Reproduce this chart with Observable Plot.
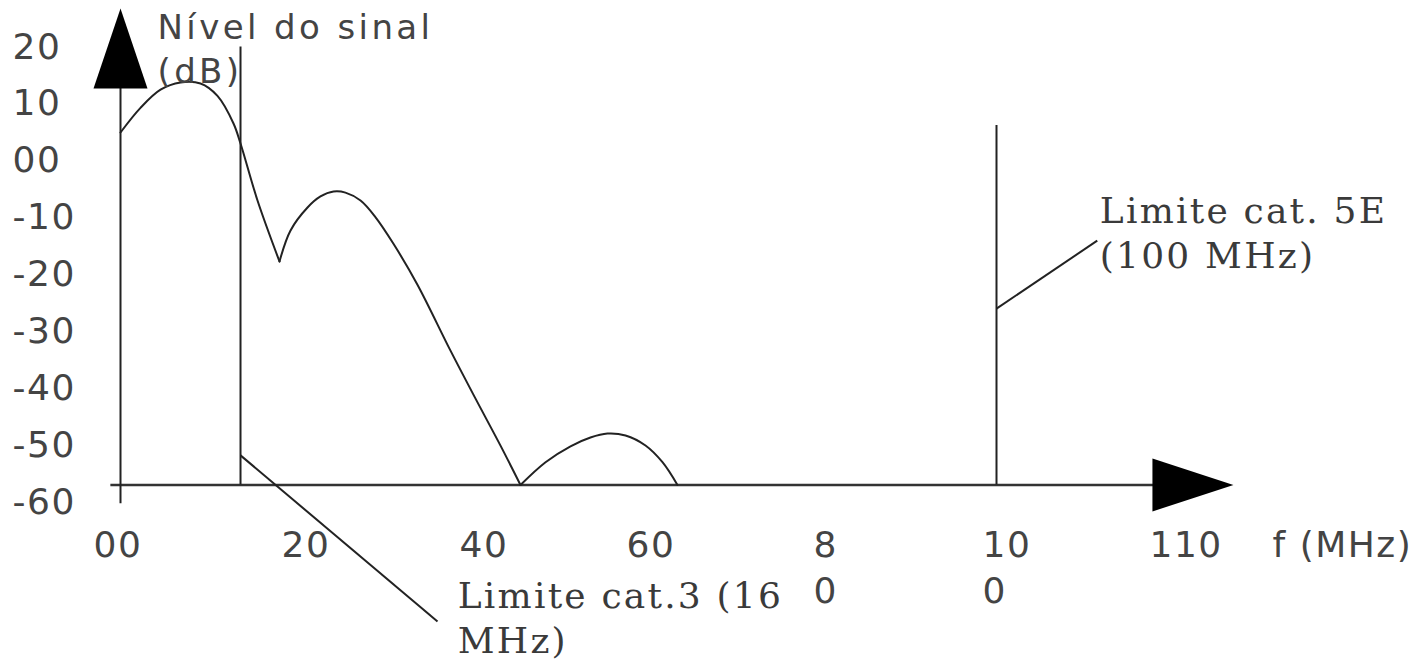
<!DOCTYPE html>
<html><head><meta charset="utf-8">
<script src="https://cdn.jsdelivr.net/npm/d3@7"></script>
<script src="https://cdn.jsdelivr.net/npm/@observablehq/plot@0.6"></script>
<style>
html,body{margin:0;padding:0;background:#fff;}
</style></head><body><div id="chart"></div>
<script>
// Y tick labels (dB) as printed on the figure
const yTickValues = [20, 10, 0, -10, -20, -30, -40, -50, -60];
const yTickLabels = ["20", "10", "00", "-10", "-20", "-30", "-40", "-50", "-60"];
// X tick labels (MHz) and where their text starts, in MHz units of the drawing
const xTickFreq = [-3.08, 18.38, 38.7, 57.76, 79.11, 98.4, 117.47, 131.51];
const xTickLabels = ["00", "20", "40", "60", "8\n0", "10\n0", "110", "f (MHz)"];

// Signal spectrum (three lobes)
const lobeName = [
  "A","A","A","A","A","A","A","A","A","A",
  "B","B","B","B","B","B","B","B","B","B","B","B","B","B",
  "C","C","C","C","C","C","C","C","C"
];
const freq = [
  0, 2.28, 4.57, 6.85, 9.13, 11.07, 12.9, 13.7, 15.64, 18.15,
  18.15, 19.41, 21.35, 22.83, 24.32, 25.68, 27.4, 29.1, 31.16, 33.9, 37.67, 40.53, 43.38, 45.66,
  45.66, 48.52, 51.37, 53.65, 55.59, 57.65, 59.93, 61.87, 63.58
];
const level = [
  4.97, 9.3, 12.5, 13.76, 13.58, 11.4, 6.55, 3.03, -6.99, -17.71,
  -17.71, -12.26, -8.22, -6.28, -5.41, -5.6, -7.0, -9.9, -14.6, -21.8, -33.39, -41.83, -50.09, -57,
  -57, -53.0, -50.2, -48.65, -47.96, -48.3, -50.06, -53.0, -57
];

// Cable category limits (vertical markers)
const limitFreq = [13.7, 100];
const limitTop = [20, 6.2];
// Leader lines from the markers to their notes
const leaderFrom = [[13.7, -51.8], [100, -26.0]];
const leaderTo = [[36.19, -81.0], [111.5, -14.05]];
// Notes
const noteTexts = ["Limite cat.3 (16\nMHz)", "Limite cat. 5E\n(100 MHz)"];
const noteFreq = [38.5, 111.8];
const noteLevel = [-86.6, -18.77];
const axisTitle = ["Nível do sinal\n(dB)"];
const axisTitleFreq = [4.22];
const axisTitleLevel = [13.6];

// Axes geometry in data units
const axisLevel = -57;      // level where the frequency axis is drawn
const xAxisStart = -1.1;
const xArrowTip = 127.05;
const yAxisBottom = -60.3;
const yArrowTip = 26.77;

const spectrum = freq.map((f, i) => ({f, db: level[i], lobe: lobeName[i]}));
const limits = limitFreq.map((f, i) => ({f, top: limitTop[i]}));
const leaders = leaderFrom.map((p, i) => ({x1: p[0], y1: p[1], x2: leaderTo[i][0], y2: leaderTo[i][1]}));
const notes = noteTexts.map((t, i) => ({t, f: noteFreq[i], db: noteLevel[i]}));
const yLabels = yTickValues.map((v, i) => ({v, t: yTickLabels[i]}));
const xLabels = xTickFreq.map((f, i) => ({f, t: xTickLabels[i]}));
const titles = axisTitle.map((t, i) => ({t, f: axisTitleFreq[i], db: axisTitleLevel[i]}));

const upArrow = {draw(ctx) { ctx.moveTo(0, 0); ctx.lineTo(27, 80); ctx.lineTo(-27, 80); ctx.closePath(); }};
const rightArrow = {draw(ctx) { ctx.moveTo(0, 0); ctx.lineTo(-81, -26.5); ctx.lineTo(-81, 26.5); ctx.closePath(); }};

const sans = "DejaVu Sans, sans-serif";
const serif = "DejaVu Serif, serif";

const chart = Plot.plot({
  width: 1415,
  height: 661,
  marginLeft: 120,
  marginRight: 419,
  marginTop: 46.5,
  marginBottom: 159.5,
  x: {domain: [0, 100], axis: null},
  y: {domain: [-60, 20], axis: null},
  style: {background: "#fff", color: "#222"},
  marks: [
    Plot.ruleY([axisLevel], {x1: xAxisStart, x2: xArrowTip - 5, stroke: "#333", strokeWidth: 2.6}),
    Plot.ruleX([0], {y1: yAxisBottom, y2: yArrowTip - 10, stroke: "#222", strokeWidth: 2}),
    Plot.ruleX(limits, {x: "f", y1: axisLevel, y2: "top", stroke: "#222", strokeWidth: 2}),
    Plot.link(leaders, {x1: "x1", y1: "y1", x2: "x2", y2: "y2", stroke: "#222", strokeWidth: 2}),
    Plot.line(spectrum, {x: "f", y: "db", z: "lobe", curve: "catmull-rom", stroke: "#222", strokeWidth: 2}),
    Plot.dot([0], {x: 0, y: yArrowTip, symbol: upArrow, fill: "#000", stroke: null}),
    Plot.dot([0], {x: xArrowTip, y: axisLevel, symbol: rightArrow, fill: "#000", stroke: null}),
    Plot.text(yLabels, {x: -12.33, y: "v", text: "t", textAnchor: "start", lineAnchor: "middle",
      fontFamily: sans, fontSize: 36, fill: "#444"}),
    Plot.text(xLabels, {x: "f", y: -64.0, text: "t", textAnchor: "start", lineAnchor: "top",
      lineHeight: 1.278, fontFamily: sans, fontSize: 36, fill: "#444"}),
    Plot.text(titles, {x: "f", y: "db", text: "t", textAnchor: "start", lineAnchor: "bottom",
      lineHeight: 1.32, fontFamily: sans, fontSize: 34, fill: "#444"}),
    Plot.text(notes, {x: "f", y: "db", text: "t", textAnchor: "start", lineAnchor: "bottom",
      lineHeight: 1.25, fontFamily: serif, fontSize: 36, fill: "#3a3a3a"})
  ]
});
// letter spacing of the original typesetting
chart.querySelectorAll("g[font-family]").forEach(g => {
  const fam = g.getAttribute("font-family") || "";
  const size = g.getAttribute("font-size");
  let ls = "1.5px";
  if (fam.includes("Serif")) ls = "2.2px";
  else if (size === "34") ls = "3.4px";
  g.style.letterSpacing = ls;
});
document.getElementById("chart").appendChild(chart);
</script>
</body></html>
